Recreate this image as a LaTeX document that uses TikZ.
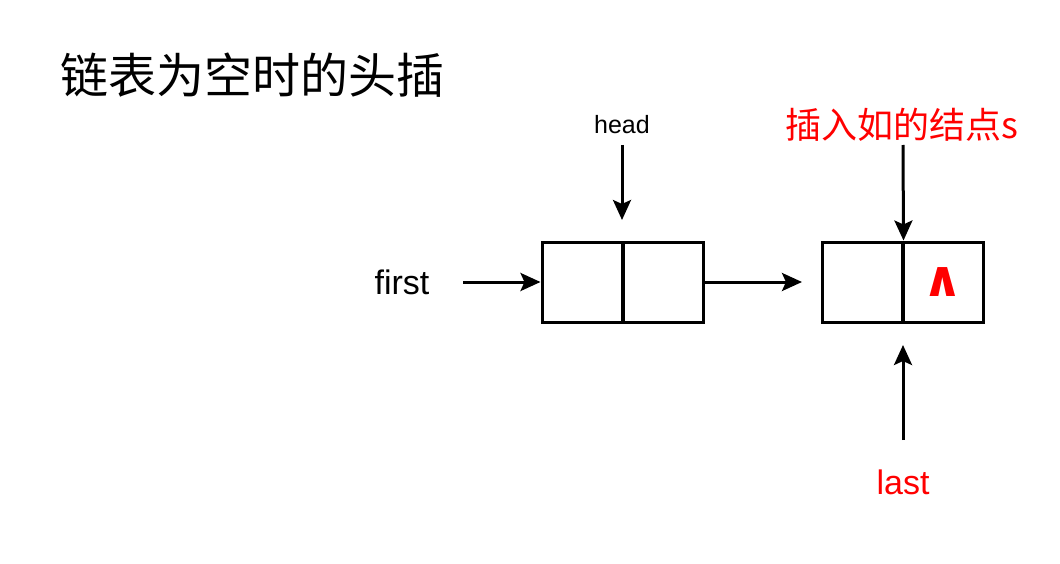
\documentclass[tikz,border=0pt]{standalone}
\usepackage{fontspec}
\setmainfont{Liberation Sans}
\newfontfamily\cjk{Noto Sans CJK SC}
\newfontfamily\symfont{DejaVu Sans}
\usetikzlibrary{arrows.meta,positioning}
\tikzset{
  cell/.style={draw,line width=3pt,minimum width=80pt,minimum height=80pt,inner sep=0pt},
  ptr/.style={line width=3pt,-{Stealth[length=20pt,width=18pt,inset=4pt]}},
  lbl/.style={inner sep=0pt,font=\fontsize{34}{34}\selectfont}
}
\begin{document}
\begin{tikzpicture}[x=1pt,y=-1pt]
  \useasboundingbox (0,0) rectangle (1060,564);
  % title
  \node[inner sep=0pt,anchor=west,font=\cjk\fontsize{48}{48}\selectfont] (title) at (60,75) {链表为空时的头插};
  % first node
  \node[cell] (n1a) at (582,282) {};
  \node[cell] (n1b) at (663,282) {};
  % second node
  \node[cell] (n2a) at (862,282) {};
  \node[cell] (n2b) at (943,282) {\textcolor{red}{\symfont\bfseries\fontsize{50}{50}\selectfont ∧}};
  % labels
  \node[inner sep=0pt,font=\fontsize{25}{25}\selectfont] (head) at (622,125) {head};
  \node[lbl] (first) at (402,282) {first};
  \node[lbl,text=red,font=\cjk\fontsize{36}{36}\selectfont] (snode) at (902,125) {插入如的结点s};
  \node[lbl,text=red] (last) at (903,482) {last};
  \coordinate (hs) at (622,145);
  \coordinate (fs) at (463,282);
  \coordinate (ss) at (903,145);
  \coordinate (ls) at (903,440);
  % pointers
  \draw[ptr] (hs) -- (622,220);
  \draw[ptr] (fs) -- (n1a.west);
  \draw[ptr] (n1b.east) -- (802,282);
  \draw[ptr] (ss) -- (n2a.north east);
  \draw[ptr] (ls) -- (903,345);
\end{tikzpicture}
\end{document}
